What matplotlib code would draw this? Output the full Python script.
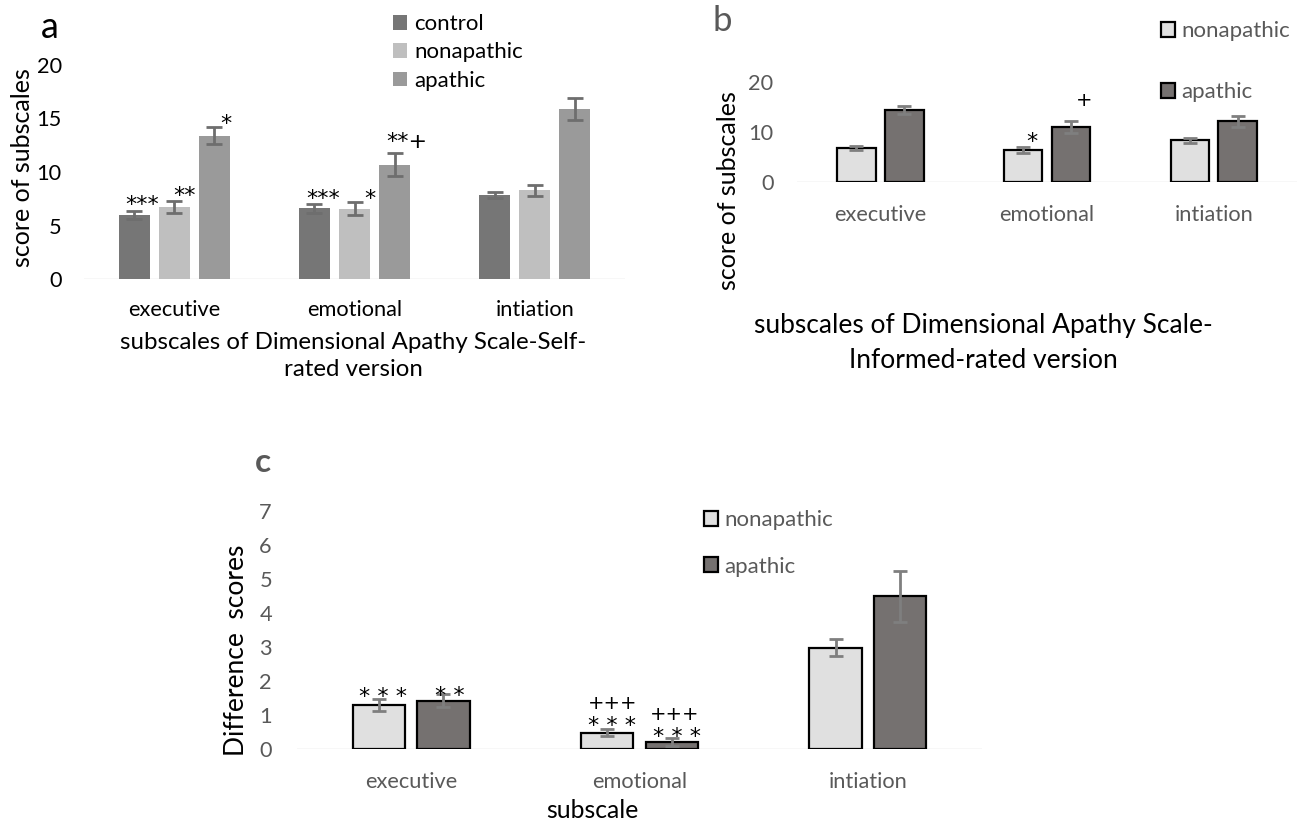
import numpy as np
import matplotlib
matplotlib.use("Agg")
import matplotlib.pyplot as plt

plt.rcParams['font.family'] = ['Lato', 'DejaVu Sans']

W, H = 1306, 821

subscales = ['executive', 'emotional', 'intiation']

# panel a: self-rated
a_groups = ['control', 'nonapathic', 'apathic']
a_control = [6.0, 6.6, 7.85]
a_control_err = [0.4, 0.45, 0.25]
a_nonapathic = [6.7, 6.55, 8.3]
a_nonapathic_err = [0.55, 0.6, 0.5]
a_apathic = [13.4, 10.7, 15.9]
a_apathic_err = [0.8, 1.1, 1.05]
# (subscale, group, text, dx px, dy px)
a_marks = [(0, 0, '***', 8, 6), (0, 1, '**', 10, 5), (0, 2, '*', 12, 3),
           (1, 0, '***', 9, 5), (1, 1, '*', 15, 3), (1, 2, '**+', 12, 11)]

# panel b: informant-rated
b_nonapathic = [6.9, 6.45, 8.4]
b_nonapathic_err = [0.45, 0.6, 0.45]
b_apathic = [14.5, 11.1, 12.2]
b_apathic_err = [0.85, 1.15, 1.05]
b_marks = [(1, 0, '*', 9, 5), (1, 1, '+', 13, 21)]

# panel c: difference scores
c_nonapathic = [1.29, 0.49, 2.98]
c_nonapathic_err = [0.18, 0.11, 0.24]
c_apathic = [1.43, 0.21, 4.49]
c_apathic_err = [0.2, 0.11, 0.75]
c_marks = [(0, 0, '* * *', 4, 2), (0, 1, '* *', 6, -2),
           (1, 0, '* * *', 5, 3), (1, 0, '+++', 5, 25),
           (1, 1, '* * *', 5, 1), (1, 1, '+++', 3, 24)]


def box(x0, y0, x1, y1):
    return [x0 / W, 1 - y1 / H, (x1 - x0) / W, (y1 - y0) / H]


def fx(px):
    return px / W


def fy(py):
    return 1 - py / H


def style(ax, tick_color, ymax, yticks):
    for s in ax.spines.values():
        s.set_visible(False)
    ax.axhline(0, color='#d9d9d9', lw=1, zorder=0)
    ax.set_ylim(0, ymax)
    ax.set_xlim(-0.5, 2.5)
    ax.set_yticks(yticks)
    ax.set_xticks(range(3))
    ax.set_xticklabels(subscales)
    ax.tick_params(length=0, labelsize=15.7, labelcolor=tick_color)
    ax.patch.set_visible(False)


def mark(ax, xc, top, text, dx, dy):
    size = 14 if '+' in text and '*' not in text else 16
    ax.annotate(text, (xc, top), xytext=(dx, dy),
                textcoords='offset pixels', ha='center', va='center',
                fontsize=size, family='DejaVu Sans', annotation_clip=False)


fig = plt.figure(figsize=(W / 100, H / 100), dpi=100)
x = np.arange(3)
grey = '#595959'
leg_kw = dict(frameon=False, fontsize=16, handlelength=0.65, handleheight=0.65,
              borderaxespad=0, borderpad=0, bbox_transform=fig.transFigure,
              loc='upper left')

# ---------- a ----------
ax = fig.add_axes(box(84, 65, 625, 279))
style(ax, 'black', 20, [0, 5, 10, 15, 20])
ax.tick_params(axis='x', pad=15)
ax.tick_params(axis='y', pad=16)
wa, sa = 0.172, 0.222
ebk = dict(ecolor='#6e6e6e', elinewidth=2, capsize=5.5, capthick=2)
series = [(a_control, a_control_err, '#767676'),
          (a_nonapathic, a_nonapathic_err, '#bfbfbf'),
          (a_apathic, a_apathic_err, '#9a9a9a')]
for i, (v, e, c) in enumerate(series):
    ax.bar(x + (i - 1) * sa, v, wa, color=c, label=a_groups[i],
           yerr=e, error_kw=ebk)
for g, s, t, dx, dy in a_marks:
    mark(ax, g + (s - 1) * sa, series[s][0][g] + series[s][1][g], t, dx, dy)
ax.set_ylabel('score of subscales', fontsize=18, va='center')
ax.yaxis.set_label_coords(fx(23), fy(168), transform=fig.transFigure)
ax.set_xlabel('subscales of Dimensional Apathy Scale-Self-\nrated version',
              fontsize=17.3, va='center', linespacing=1.4)
ax.xaxis.set_label_coords(fx(353), fy(356), transform=fig.transFigure)
ax.legend(bbox_to_anchor=(fx(393), fy(14)), handletextpad=0.3,
          labelspacing=0.38, **leg_kw)
fig.text(fx(50), fy(27), 'a', fontsize=26, ha='center', va='center')

# ---------- b ----------
ax = fig.add_axes(box(797, 82.3, 1297, 182.3))
style(ax, grey, 20, [0, 10, 20])
ax.tick_params(axis='x', pad=16.5)
ax.tick_params(axis='y', pad=17)
wb, sb = 0.231, 0.287
ebk2 = dict(ecolor='#7f7f7f', elinewidth=2, capsize=5, capthick=2)
series_b = [(b_nonapathic, b_nonapathic_err, '#e0e0e0', 'nonapathic'),
            (b_apathic, b_apathic_err, '#757170', 'apathic')]
for i, (v, e, c, lab) in enumerate(series_b):
    ax.bar(x + (i - 0.5) * sb, v, wb, color=c, edgecolor='black',
           linewidth=1.6, label=lab, yerr=e, error_kw=ebk2)
for g, s, t, dx, dy in b_marks:
    mark(ax, g + (s - 0.5) * sb, series_b[s][0][g] + series_b[s][1][g],
         t, dx, dy)
ax.set_ylabel('score of subscales', fontsize=18, va='center')
ax.yaxis.set_label_coords(fx(728), fy(191), transform=fig.transFigure)
ax.set_xlabel('subscales of Dimensional Apathy Scale-\nInformed-rated version',
              fontsize=19, va='center', linespacing=1.45)
ax.xaxis.set_label_coords(fx(983), fy(343), transform=fig.transFigure)
leg = ax.legend(bbox_to_anchor=(fx(1161), fy(21)), handletextpad=0.25,
                labelspacing=1.85, **leg_kw)
for t in leg.get_texts():
    t.set_color(grey)
fig.text(fx(722), fy(21), 'b', fontsize=25, ha='center', va='center',
         color=grey)

# ---------- c ----------
ax = fig.add_axes(box(297, 510.6, 982, 749.3))
style(ax, grey, 7, range(8))
ax.tick_params(axis='x', pad=16.5)
ax.tick_params(axis='y', pad=18)
wc, sc = 0.229, 0.283
series_c = [(c_nonapathic, c_nonapathic_err, '#e0e0e0', 'nonapathic'),
            (c_apathic, c_apathic_err, '#757170', 'apathic')]
for i, (v, e, c, lab) in enumerate(series_c):
    ax.bar(x + (i - 0.5) * sc, v, wc, color=c, edgecolor='black',
           linewidth=1.6, label=lab, yerr=e, error_kw=ebk2)
for g, s, t, dx, dy in c_marks:
    mark(ax, g + (s - 0.5) * sc, series_c[s][0][g] + series_c[s][1][g],
         t, dx, dy)
ax.set_ylabel('Difference  scores', fontsize=19, va='center')
ax.yaxis.set_label_coords(fx(237), fy(650), transform=fig.transFigure)
ax.set_xlabel('subscale', fontsize=17.8, va='center')
ax.xaxis.set_label_coords(fx(592), fy(810), transform=fig.transFigure)
leg = ax.legend(bbox_to_anchor=(fx(704), fy(510)), handletextpad=0.25,
                labelspacing=1.2, **leg_kw)
for t in leg.get_texts():
    t.set_color(grey)
fig.text(fx(263), fy(462), 'c', fontsize=24, ha='center', va='center',
         color=grey, fontweight='bold')

fig.savefig('out.png', dpi=100)
